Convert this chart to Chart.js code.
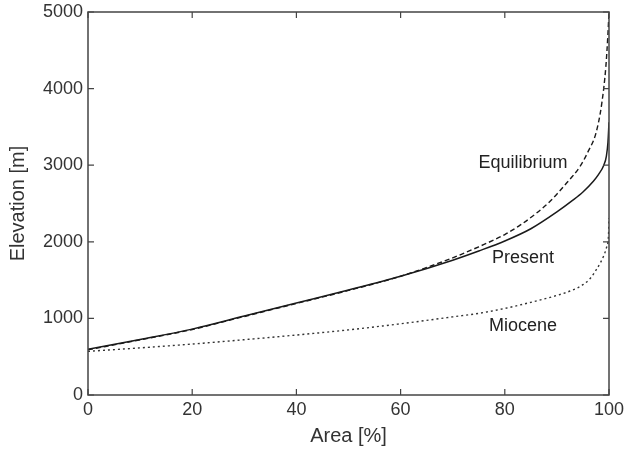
<!DOCTYPE html>
<html>
<head>
<meta charset="utf-8">
<script src="https://cdn.jsdelivr.net/npm/chart.js@4"></script>
<style>
  html, body { margin: 0; padding: 0; background: #fff; }
  #wrap { width: 626px; height: 452px; }
</style>
</head>
<body>
<div id="wrap"><canvas id="hypso"></canvas></div>
<script>
// Hypsometric curves (area % vs elevation m)
const presentArea = [0, 10, 20, 30, 40, 50, 60, 70, 75, 80, 85, 90, 93, 95, 97, 98, 99, 99.5, 99.8, 100];
const presentElev = [597, 725, 860, 1030, 1200, 1370, 1550, 1760, 1880, 2010, 2170, 2390, 2540, 2650, 2790, 2880, 3000, 3120, 3300, 3560];

const equilArea = [0, 10, 20, 30, 40, 50, 60, 65, 70, 75, 80, 83, 86, 88.7, 91.9, 94.5, 96, 97.5, 98.6, 99.4, 99.8, 100];
const equilElev = [590, 720, 855, 1025, 1195, 1365, 1550, 1665, 1790, 1935, 2095, 2220, 2370, 2530, 2770, 2990, 3180, 3420, 3800, 4290, 4720, 5000];

const mioceneArea = [0, 10, 20, 30, 40, 50, 60, 70, 75, 80, 85, 90, 93, 95, 96.5, 97.6, 98.3, 99, 99.5, 99.9, 100];
const mioceneElev = [570, 615, 665, 722, 783, 850, 930, 1020, 1066, 1130, 1210, 1300, 1370, 1440, 1530, 1640, 1720, 1820, 1920, 2080, 2310];

// curve labels, placed in data coordinates
const labelText = ['Equilibrium', 'Present', 'Miocene'];
const labelArea = [83.5, 83.5, 83.5];
const labelElev = [3030, 1790, 900];

const xTicks = [0, 20, 40, 60, 80, 100];
const yTicks = [0, 1000, 2000, 3000, 4000, 5000];

function toPoints(xs, ys) {
    return xs.map((x, i) => ({ x: x, y: ys[i] }));
}

const ink = '#1a1a1a';
const fontFam = '"Liberation Sans", Arial, Helvetica, sans-serif';

// box around the axes + inward ticks (matlab style) + curve labels
const boxPlugin = {
    id: 'boxPlugin',
    afterDraw(chart) {
        const ctx = chart.ctx;
        const a = chart.chartArea;
        const xs = chart.scales.x, ys = chart.scales.y;
        ctx.save();
        ctx.strokeStyle = '#444';
        ctx.lineWidth = 1.5;
        ctx.strokeRect(a.left, a.top, a.right - a.left, a.bottom - a.top);
        ctx.lineWidth = 1.2;
        ctx.beginPath();
        xTicks.forEach(v => {
            const px = xs.getPixelForValue(v);
            ctx.moveTo(px, a.bottom); ctx.lineTo(px, a.bottom - 6);
            ctx.moveTo(px, a.top); ctx.lineTo(px, a.top + 6);
        });
        yTicks.forEach(v => {
            const py = ys.getPixelForValue(v);
            ctx.moveTo(a.left, py); ctx.lineTo(a.left + 6, py);
            ctx.moveTo(a.right, py); ctx.lineTo(a.right - 6, py);
        });
        ctx.stroke();

        ctx.fillStyle = '#222';
        ctx.font = '18px ' + fontFam;
        ctx.textAlign = 'center';
        ctx.textBaseline = 'middle';
        labelText.forEach((t, i) => {
            ctx.fillText(t, xs.getPixelForValue(labelArea[i]), ys.getPixelForValue(labelElev[i]));
        });
        ctx.restore();
    }
};

const ctx = document.getElementById('hypso').getContext('2d');
const chart = new Chart(ctx, {
    type: 'line',
    data: {
        datasets: [
            {
                label: 'Present',
                data: toPoints(presentArea, presentElev),
                borderColor: ink,
                borderWidth: 1.5
            },
            {
                label: 'Equilibrium',
                data: toPoints(equilArea, equilElev),
                borderColor: ink,
                borderWidth: 1.4,
                borderDash: [5, 3]
            },
            {
                label: 'Miocene',
                data: toPoints(mioceneArea, mioceneElev),
                borderColor: '#333',
                borderWidth: 1.4,
                borderDash: [2, 3]
            }
        ]
    },
    options: {
        responsive: true,
        maintainAspectRatio: false,
        animation: false,
        layout: { padding: { top: 12, right: 17, left: 0, bottom: 0 } },
        elements: {
            point: { radius: 0 },
            line: { cubicInterpolationMode: 'monotone', fill: false }
        },
        plugins: {
            legend: { display: false },
            tooltip: { enabled: false }
        },
        scales: {
            x: {
                type: 'linear',
                min: 0, max: 100,
                border: { display: false },
                grid: { display: false, drawTicks: false },
                ticks: {
                    stepSize: 20,
                    padding: 4,
                    color: '#333',
                    font: { size: 18, family: fontFam },
                    callback: v => String(v)
                },
                title: {
                    display: true,
                    text: 'Area [%]',
                    color: '#333',
                    font: { size: 20, family: fontFam },
                    padding: { top: 2, bottom: 4 }
                },
                afterFit(scale) {
                    scale.height = 57;
                    scale.paddingLeft = 0;
                    scale.paddingRight = 0;
                }
            },
            y: {
                min: 0, max: 5000,
                border: { display: false },
                grid: { display: false, drawTicks: false },
                ticks: {
                    stepSize: 1000,
                    padding: 5,
                    color: '#333',
                    font: { size: 18, family: fontFam },
                    callback: v => String(v)
                },
                title: {
                    display: true,
                    text: 'Elevation [m]',
                    color: '#333',
                    font: { size: 20, family: fontFam },
                    padding: { top: 6, bottom: 2 }
                },
                afterFit(scale) {
                    scale.width = 88;
                    scale.paddingTop = 0;
                    scale.paddingBottom = 0;
                }
            }
        }
    },
    plugins: [boxPlugin]
});
</script>
</body>
</html>
